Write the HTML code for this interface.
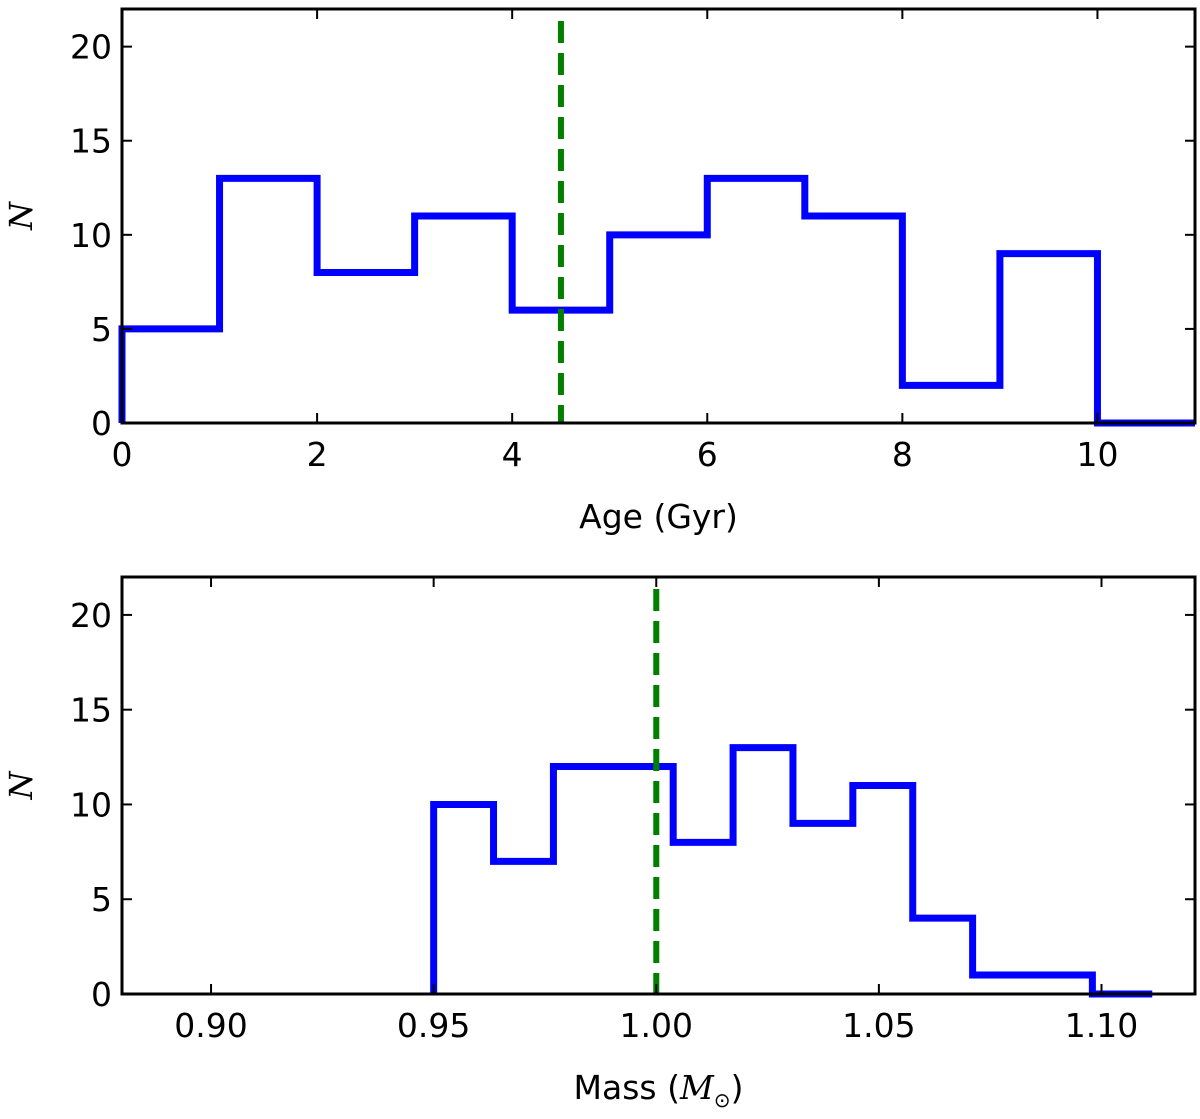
<!DOCTYPE html>
<html><head><style>body{margin:0;background:#fff}svg text{font-family:"DejaVu Sans","Liberation Sans",sans-serif}</style></head>
<body>
<svg id="c" width="1200" height="1114" xmlns="http://www.w3.org/2000/svg"></svg>
<script>
const ageEdges=[0,1,2,3,4,5,6,7,8,9,10,11];
const ageCounts=[5,13,8,11,6,10,13,11,2,9,0];
const ageTicks=[0,2,4,6,8,10];
const ageRef=4.5;
const massStart=0.95, massStep=0.01345;
const massCounts=[10,7,12,12,8,13,9,11,4,1,1,0];
const massTicks=[0.90,0.95,1.00,1.05,1.10];
const massRef=1.0;
const yTicks=[0,5,10,15,20];
const NS="http://www.w3.org/2000/svg";
const svg=document.getElementById('c');
function mk(t,a,p){const e=document.createElementNS(NS,t);for(const k in a)e.setAttribute(k,a[k]);(p||svg).appendChild(e);return e;}
function panel(o){
  const g=mk('g',{});
  
  
  const X=v=>o.L+(v-o.x0)/(o.x1-o.x0)*(o.R-o.L);
  const Y=v=>o.B-(v-0)/(22-0)*(o.B-o.T);
  let d=`M${X(o.edges[0])},${Y(0)}`;
  o.counts.forEach((c,i)=>{d+=` L${X(o.edges[i])},${Y(c)} L${X(o.edges[i+1])},${Y(c)}`;});
  const h=mk('path',{d,fill:'none',stroke:'#0000ff','stroke-width':7,'stroke-linejoin':'miter'},g);
  
  
  const rl=mk('line',{x1:X(o.ref),x2:X(o.ref),y1:o.T+12,y2:o.B,stroke:'#007f00','stroke-width':6,'stroke-dasharray':'22,10'},g);
  
  
  const fr=mk('rect',{x:o.L,y:o.T,width:o.R-o.L,height:o.B-o.T,fill:'none',stroke:'#000','stroke-width':3},g);
  
  
  o.xt.forEach(v=>{const x=X(v);
    mk('line',{x1:x,x2:x,y1:o.B,y2:o.B-10,stroke:'#000','stroke-width':2},g);
    mk('line',{x1:x,x2:x,y1:o.T,y2:o.T+10,stroke:'#000','stroke-width':2},g);
    const t=mk('text',{x:x,y:o.B+43,'font-size':33,'text-anchor':'middle'},g);t.textContent=o.fmt(v);
    
    });
  yTicks.forEach(v=>{const y=Y(v);
    mk('line',{x1:o.L,x2:o.L+10,y1:y,y2:y,stroke:'#000','stroke-width':2},g);
    mk('line',{x1:o.R,x2:o.R-10,y1:y,y2:y,stroke:'#000','stroke-width':2},g);
    const t=mk('text',{x:o.L-10,y:y+12,'font-size':33,'text-anchor':'end'},g);t.textContent=v;
    
    });
  const yl=mk('text',{x:0,y:0,'font-size':32,'font-style':'italic','text-anchor':'middle',transform:`translate(32,${(o.T+o.B)/2}) rotate(-90)`,style:'font-family:"DejaVu Serif","Liberation Serif",serif'},g);yl.textContent='N';
  
  
  const xl=mk('text',{x:(o.L+o.R)/2,y:o.B+105,'font-size':33,'text-anchor':'middle'},g);xl.innerHTML=o.xlabel;
  
  
}
panel({name:'age-panel',L:122,R:1195,T:9,B:423,x0:0,x1:11,edges:ageEdges,counts:ageCounts,ref:ageRef,xt:ageTicks,fmt:v=>v,xlabel:'Age (Gyr)'});
const massEdges=massCounts.map((c,i)=>massStart+i*massStep).concat([massStart+massCounts.length*massStep]);
panel({name:'mass-panel',L:122,R:1195,T:577,B:994,x0:0.88,x1:1.121,edges:massEdges,counts:massCounts,ref:massRef,xt:massTicks,fmt:v=>v.toFixed(2),xlabel:'Mass (<tspan font-style="italic" style="font-family:\'DejaVu Serif\',serif">M</tspan><tspan font-size="20" dy="8">⊙</tspan><tspan dy="-8">)</tspan>'});
</script>
</body></html>
